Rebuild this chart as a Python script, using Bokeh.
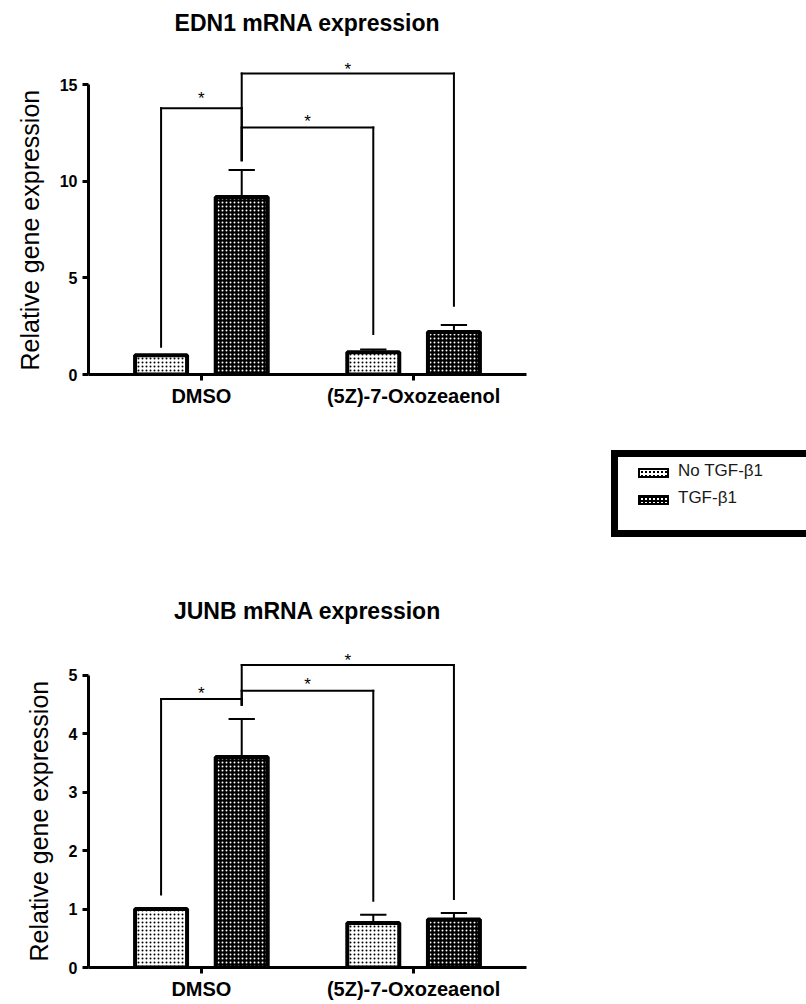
from bokeh.plotting import figure
from bokeh.models import (ColumnDataSource, FactorRange, Range1d, FixedTicker,
                          Title, Div)
from bokeh.transform import dodge
from bokeh.layouts import column
from bokeh.embed import file_html
from bokeh.resources import INLINE
from bokeh.core.properties import value

# ---------------- data ----------------
groups = ["DMSO", "(5Z)-7-Oxozeaenol"]
series = ["No TGF-β1", "TGF-β1"]

edn1_no_tgf = [1.0, 1.15]
edn1_no_tgf_upper = [1.0, 1.3]
edn1_tgf = [9.2, 2.2]
edn1_tgf_upper = [10.6, 2.56]

junb_no_tgf = [1.0, 0.76]
junb_no_tgf_upper = [1.0, 0.9]
junb_tgf = [3.6, 0.82]
junb_tgf_upper = [4.25, 0.93]

# significance brackets (which bars they join)
bracket_from_group = ["DMSO", "DMSO", "DMSO"]
bracket_from_series = [0, 1, 1]
bracket_to_group = ["DMSO", "(5Z)-7-Oxozeaenol", "(5Z)-7-Oxozeaenol"]
bracket_to_series = [1, 0, 1]
bracket_label = ["*", "*", "*"]

edn1_bracket_top = [13.8, 12.8, 15.6]
edn1_bracket_from_end = [1.44, 11.1, 11.1]
edn1_bracket_to_end = [11.1, 2.1, 3.56]
edn1_star_y = [14.5, 13.3, 16.0]

junb_bracket_top = [4.59, 4.73, 5.17]
junb_bracket_from_end = [1.25, 4.49, 4.49]
junb_bracket_to_end = [4.49, 1.14, 1.17]
junb_star_y = [4.76, 4.90, 5.31]

edn1_ticks = [0, 5, 10, 15]
junb_ticks = [0, 1, 2, 3, 4, 5]

# ---------------- styles ----------------
FONT = "Liberation Sans"
OFFSET = [-0.19, 0.19]
BAR_W = 0.245
CAP = 0.062
BAR_STYLE = [
    dict(fill_color="white", hatch_pattern="dot", hatch_color="black",
         hatch_scale=4, hatch_weight=1),
    dict(fill_color="black", hatch_pattern="dot", hatch_color="white",
         hatch_scale=4, hatch_weight=3),
]
SWATCH_CSS = [
    "background-color:#fff;background-image:radial-gradient(circle,#000 0.9px,transparent 1.3px);background-size:4px 4px;",
    "background-color:#000;background-image:radial-gradient(circle,#fff 1.1px,transparent 1.5px);background-size:4px 4px;",
]


def make_chart(title, vals, uppers, b_top, b_from_end, b_to_end, star_y,
               y_end, ticks, height, border_top, border_bottom,
               title_standoff, label_offset):
    p = figure(width=806, height=height,
               x_range=FactorRange(factors=groups, range_padding=0.032,
                                   range_padding_units="absolute"),
               y_range=Range1d(0, y_end),
               output_backend="svg", toolbar_location=None,
               min_border_left=85, min_border_right=280,
               min_border_top=border_top, min_border_bottom=border_bottom)
    p.outline_line_color = None
    p.grid.visible = False

    p.title.text = title
    p.title.text_font = FONT
    p.title.text_font_size = "23px"
    p.title.text_font_style = "bold"
    p.title.text_color = "black"
    p.title.align = "center"
    p.title.standoff = title_standoff

    for ax in (p.xaxis[0], p.yaxis[0]):
        ax.axis_line_width = 3
        ax.axis_line_color = "black"
        ax.major_tick_line_width = 3
        ax.major_tick_line_color = "black"
        ax.major_tick_in = 0
        ax.major_tick_out = 6
        ax.minor_tick_line_color = None
        ax.major_label_text_font = FONT
        ax.major_label_text_font_style = "bold"
        ax.major_label_text_color = "black"
    p.xaxis.major_label_text_font_size = "20px"
    p.xaxis.major_label_standoff = 4
    p.yaxis.major_label_text_font_size = "16px"
    p.yaxis.major_label_standoff = 5
    p.yaxis.ticker = FixedTicker(ticks=ticks)
    p.yaxis.bounds = (ticks[0], ticks[-1])

    # y-axis title, placed along the axis extent
    p.add_layout(Title(text="Relative gene expression", align="left",
                       offset=label_offset, standoff=26,
                       text_font=FONT, text_font_size="25px",
                       text_font_style="normal", text_color="black"), "left")

    # brackets
    for k in range(len(bracket_label)):
        gi_from = groups.index(bracket_from_group[k])
        gi_to = groups.index(bracket_to_group[k])
        off_from = OFFSET[bracket_from_series[k]]
        off_to = OFFSET[bracket_to_series[k]]
        off_mid = (off_from + off_to + (gi_to - gi_from)) / 2
        src = ColumnDataSource(dict(
            g_from=[bracket_from_group[k]], g_to=[bracket_to_group[k]],
            top=[b_top[k]], from_end=[b_from_end[k]], to_end=[b_to_end[k]],
            star_y=[star_y[k]], label=[bracket_label[k]]))
        xf = dodge("g_from", off_from, range=p.x_range)
        xt = dodge("g_to", off_to, range=p.x_range)
        seg = dict(source=src, line_color="black", line_width=2,
                   line_cap="square")
        p.segment(x0=xf, y0="from_end", x1=xf, y1="top", **seg)
        p.segment(x0=xf, y0="top", x1=xt, y1="top", **seg)
        p.segment(x0=xt, y0="top", x1=xt, y1="to_end", **seg)
        p.text(x=dodge("g_from", off_mid, range=p.x_range), y="star_y",
               text="label", source=src, text_align="center",
               text_baseline="middle", y_offset=4,
               text_font=value(FONT), text_font_size="17px",
               text_color="black")

    # bars with error bars
    for i in range(2):
        src = ColumnDataSource(dict(group=groups, top=vals[i], upper=uppers[i]))
        x = dodge("group", OFFSET[i], range=p.x_range)
        p.segment(x0=x, y0="top", x1=x, y1="upper", source=src,
                  line_color="black", line_width=2)
        p.segment(x0=dodge("group", OFFSET[i] - CAP, range=p.x_range), y0="upper",
                  x1=dodge("group", OFFSET[i] + CAP, range=p.x_range), y1="upper",
                  source=src, line_color="black", line_width=2)
        p.vbar(x=x, top="top", bottom=0, width=BAR_W, source=src,
               line_color="black", line_width=4, **BAR_STYLE[i])
    return p


top = make_chart("EDN1 mRNA expression", [edn1_no_tgf, edn1_tgf],
                 [edn1_no_tgf_upper, edn1_tgf_upper],
                 edn1_bracket_top, edn1_bracket_from_end, edn1_bracket_to_end,
                 edn1_star_y, y_end=17.2, ticks=edn1_ticks,
                 height=420, border_top=40, border_bottom=46,
                 title_standoff=14, label_offset=4)

bottom = make_chart("JUNB mRNA expression", [junb_no_tgf, junb_tgf],
                    [junb_no_tgf_upper, junb_tgf_upper],
                    junb_bracket_top, junb_bracket_from_end, junb_bracket_to_end,
                    junb_star_y, y_end=5.59, ticks=junb_ticks,
                    height=456, border_top=92, border_bottom=37,
                    title_standoff=34, label_offset=6)

# shared legend between the two charts: a frame open on the right,
# running off the edge of the page
item_top = [46, 73]
parts = [
    '<div style="position:absolute;left:611px;top:30px;width:195px;height:7px;background:#000;"></div>',
    '<div style="position:absolute;left:611px;top:110px;width:195px;height:7px;background:#000;"></div>',
    '<div style="position:absolute;left:611px;top:30px;width:7px;height:87px;background:#000;"></div>',
]
for i in range(2):
    parts.append(
        f'<div style="position:absolute;left:638px;top:{item_top[i] + 2}px;width:31px;height:10px;'
        f'box-sizing:border-box;border:2px solid #000;{SWATCH_CSS[i]}"></div>'
    )
    parts.append(
        f'<div style="position:absolute;left:678px;top:{item_top[i] - 7}px;height:24px;line-height:24px;'
        f"font-family:'Liberation Sans';font-size:17px;color:#1a1a1a;white-space:nowrap;\">"
        f"{series[i]}</div>"
    )
legend_html = ('<div style="position:relative;width:806px;height:128px;overflow:hidden;margin:0;padding:0;">'
               + "".join(parts) + "</div>")
legend_div = Div(text=legend_html, width=806, height=128,
                 styles={"overflow": "hidden", "margin": "0", "padding": "0"})

layout = column(top, legend_div, bottom, spacing=0)
open("out.html", "w").write(file_html(layout, INLINE))
